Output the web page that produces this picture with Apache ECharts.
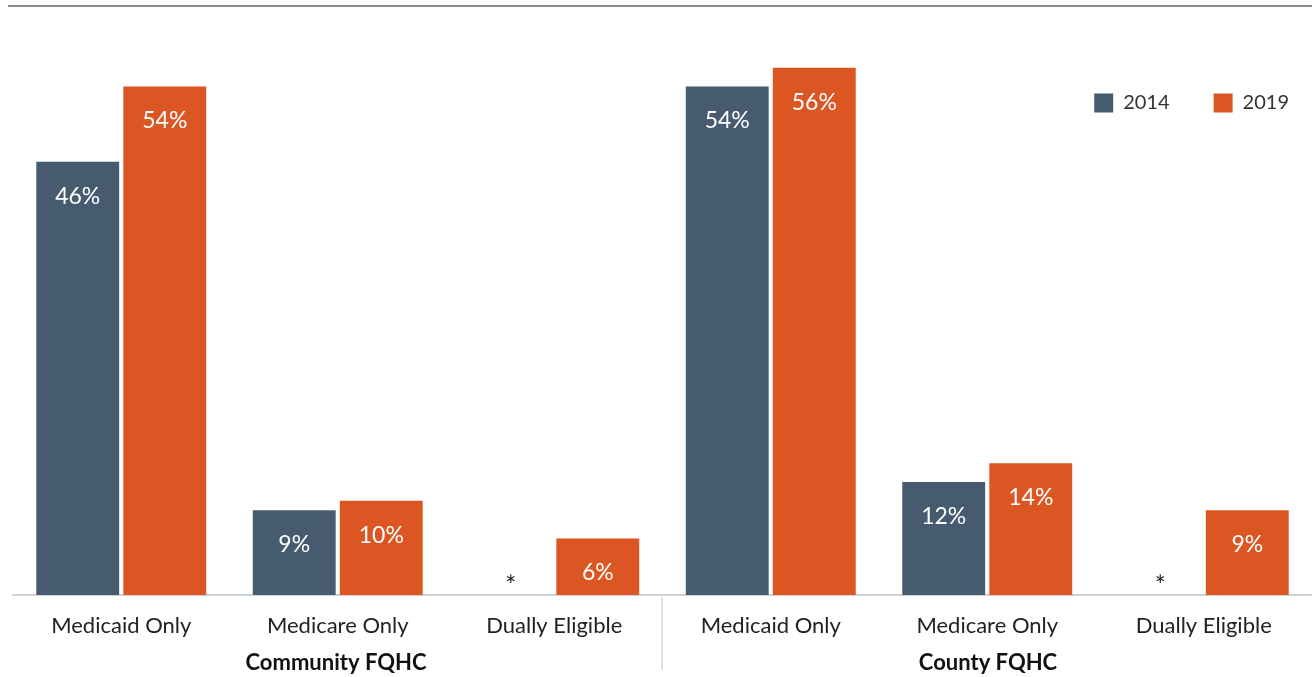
<!DOCTYPE html>
<html><head><meta charset="utf-8">
<script src="https://cdn.jsdelivr.net/npm/echarts@6/dist/echarts.min.js"></script>
<style>html,body{margin:0;padding:0;background:#fff}#c{width:1312px;height:677px}</style>
</head><body><div id="c"></div>
<script>
const categories = ['Medicaid Only','Medicare Only','Dually Eligible','Medicaid Only','Medicare Only','Dually Eligible'];
const groups = ['Community FQHC','County FQHC'];
const values2014 = [46, 9, null, 54, 12, null];
const values2019 = [54, 10, 6, 56, 14, 9];
const seriesNames = ['2014','2019'];
const FONT = 'Lato, "Noto Sans", sans-serif';
const chart = echarts.init(document.getElementById('c'));
function mkData(arr){
  return arr.map(v => v === null
    ? {value: 0, label:{show:true, position:'top', distance:-5, color:'#222', formatter:'*', fontSize:26, fontFamily:FONT}}
    : v);
}
const barLabel = {show:true, position:'insideTop', distance:23, color:'#fff', fontFamily:FONT, fontSize:23, formatter: p=>p.value+'%'};
chart.setOption({
  animation:false,
  grid:{left:13, right:0, top:30, bottom:82},
  legend:{
    top:88, right:18, itemWidth:19, itemHeight:19, itemGap:44, icon:'rect',
    textStyle:{fontFamily:FONT, fontSize:20, color:'#333', padding:[0,0,0,5]},
    data:seriesNames
  },
  xAxis:{
    type:'category', data:categories,
    axisLine:{lineStyle:{color:'#d0d3d6', width:2}},
    axisTick:{show:false},
    axisLabel:{fontFamily:FONT, fontSize:22, color:'#222', margin:20}
  },
  yAxis:{type:'value', min:0, max:60, show:false, splitLine:{show:false}},
  series:[
    {name:seriesNames[0], type:'bar', data:mkData(values2014), barGap:'5%', barCategoryGap:'21.5%',
     itemStyle:{color:'#465a70'}, label:barLabel},
    {name:seriesNames[1], type:'bar', data:mkData(values2019),
     itemStyle:{color:'#dc5624'}, label:barLabel}
  ],
  graphic:[
    {type:'line', shape:{x1:8, y1:6, x2:1312, y2:6}, style:{stroke:'#8a8a8a', lineWidth:2}},
    {type:'line', shape:{x1:662, y1:597, x2:662, y2:670}, style:{stroke:'#d8d8d8', lineWidth:1.5}},
    {type:'text', style:{text:groups[0], x:336, y:663, align:'center', verticalAlign:'middle', fontFamily:FONT, fontWeight:'bold', fontSize:22, fill:'#111'}},
    {type:'text', style:{text:groups[1], x:988, y:663, align:'center', verticalAlign:'middle', fontFamily:FONT, fontWeight:'bold', fontSize:22, fill:'#111'}}
  ]
});
</script></body></html>
